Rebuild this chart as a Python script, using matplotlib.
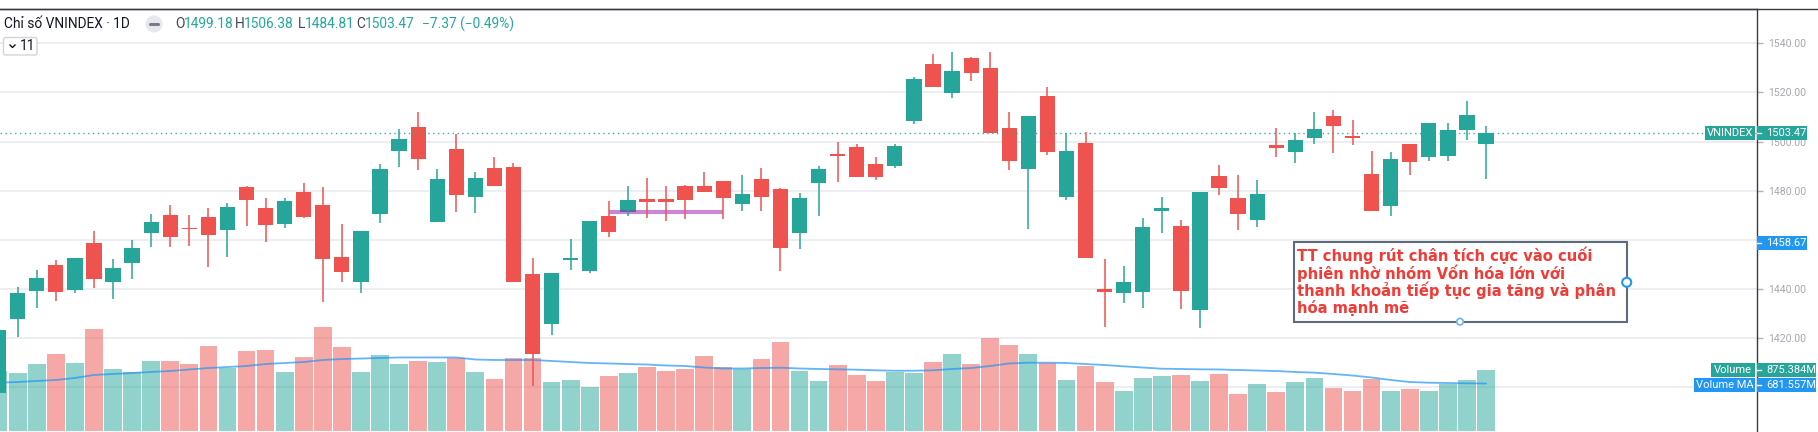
import numpy as np
import matplotlib.pyplot as plt
from matplotlib.patches import Rectangle, Ellipse, FancyBboxPatch
from matplotlib.lines import Line2D
from matplotlib.transforms import Affine2D

# daily OHLC (oldest first, last bar = current session)
opens = [1397.6, 1427.8, 1439.2, 1449.6, 1439.5, 1458.7, 1442.7, 1450.4, 1462.7, 1470.1,
         1465.0, 1469.2, 1463.9, 1481.5, 1473.0, 1466.6, 1479.6, 1474.2, 1453.2, 1442.7,
         1470.7, 1496.3, 1505.9, 1467.1, 1496.9, 1477.6, 1489.1, 1489.5, 1446.2, 1425.9,
         1451.8, 1447.5, 1469.7, 1471.3, 1476.5, 1476.6, 1481.9, 1481.9, 1484.0, 1474.6,
         1484.6, 1480.6, 1462.9, 1483.3, 1495.0, 1497.9, 1490.9, 1489.9, 1508.4, 1531.6,
         1519.8, 1534.2, 1530.1, 1505.5, 1489.0, 1518.4, 1477.6, 1499.3, 1439.9, 1438.2,
         1438.6, 1471.7, 1465.5, 1431.3, 1485.9, 1477.0, 1468.0, 1498.5, 1495.9, 1501.5,
         1510.6, 1502.4, 1486.8, 1473.9, 1498.9, 1493.6, 1494.0, 1504.7, 1499.18]
highs = [1424.5, 1440.7, 1447.7, 1451.8, 1452.5, 1463.5, 1452.1, 1460.0, 1470.5, 1474.2,
         1470.1, 1472.8, 1474.9, 1482.1, 1476.9, 1476.9, 1483.0, 1481.5, 1466.5, 1463.5,
         1490.9, 1505.1, 1511.9, 1488.7, 1503.1, 1487.5, 1493.9, 1491.2, 1452.5, 1446.6,
         1460.2, 1467.8, 1476.0, 1481.9, 1485.2, 1481.9, 1482.3, 1487.6, 1484.0, 1486.3,
         1489.1, 1481.1, 1478.9, 1490.2, 1499.7, 1499.0, 1493.6, 1499.0, 1526.4, 1535.7,
         1536.5, 1534.6, 1536.5, 1512.2, 1510.3, 1522.4, 1503.4, 1503.8, 1452.1, 1449.4,
         1468.8, 1477.4, 1468.0, 1479.5, 1490.6, 1486.5, 1484.4, 1505.5, 1503.4, 1511.9,
         1512.9, 1508.7, 1496.2, 1495.8, 1498.9, 1507.7, 1507.4, 1516.5, 1506.38]
lows = [1396.0, 1420.6, 1432.1, 1435.3, 1438.5, 1440.5, 1435.8, 1444.2, 1457.0, 1457.2,
        1457.6, 1448.8, 1452.9, 1465.8, 1459.0, 1464.7, 1469.0, 1434.6, 1442.7, 1438.2,
        1467.0, 1489.8, 1488.4, 1467.1, 1471.2, 1470.9, 1481.9, 1443.0, 1400.5, 1421.3,
        1447.7, 1446.6, 1461.3, 1469.9, 1469.0, 1467.8, 1468.6, 1479.6, 1468.6, 1471.9,
        1471.6, 1447.5, 1456.3, 1469.9, 1483.7, 1485.6, 1484.4, 1489.4, 1507.0, 1522.2,
        1517.9, 1524.8, 1503.4, 1488.3, 1464.3, 1494.7, 1476.4, 1452.5, 1424.4, 1434.3,
        1432.4, 1462.9, 1432.0, 1424.0, 1478.3, 1464.0, 1465.1, 1493.6, 1491.4, 1499.2,
        1495.5, 1498.8, 1471.6, 1469.9, 1486.3, 1492.2, 1492.2, 1500.7, 1484.81]
closes = [1423.3, 1438.2, 1444.3, 1438.6, 1452.5, 1444.2, 1448.4, 1456.6, 1467.4, 1461.3,
          1464.6, 1462.1, 1473.4, 1476.4, 1466.2, 1476.0, 1469.4, 1452.2, 1447.1, 1463.5,
          1488.7, 1500.9, 1493.1, 1484.6, 1478.4, 1485.0, 1481.9, 1443.0, 1413.5, 1446.6,
          1452.8, 1467.8, 1463.2, 1476.2, 1475.6, 1475.3, 1476.4, 1479.6, 1477.2, 1478.8,
          1477.6, 1456.6, 1476.9, 1488.7, 1494.0, 1485.6, 1485.6, 1498.2, 1525.3, 1522.2,
          1528.6, 1528.1, 1503.4, 1492.1, 1510.3, 1495.8, 1496.0, 1452.5, 1438.8, 1442.8,
          1465.2, 1472.8, 1439.3, 1479.5, 1481.2, 1470.7, 1478.8, 1497.4, 1500.8, 1505.1,
          1506.5, 1501.3, 1471.6, 1492.8, 1491.8, 1507.7, 1504.9, 1510.84, 1503.47]
# volume in millions of shares, and the volume moving average
volumes = [865, 828, 957, 1100, 980, 1459, 890, 851, 1004, 1004,
           961, 1215, 909, 1148, 1162, 842, 1057, 1497, 1210, 842,
           1091, 957, 1004, 990, 1052, 842, 746, 1043, 1043, 698,
           732, 636, 789, 828, 923, 866, 895, 1071, 914, 885,
           1033, 1277, 866, 722, 947, 804, 722, 851, 833, 995,
           1100, 957, 1330, 1229, 1110, 980, 732, 928, 698, 569,
           761, 789, 799, 713, 813, 531, 674, 555, 698, 761,
           617, 569, 751, 569, 607, 579, 674, 732, 875.384]
vol_ma = [693, 703, 718, 732, 761, 804, 818, 832, 847, 861,
          883, 904, 918, 933, 961, 976, 990, 1019, 1033, 1040,
          1048, 1055, 1055, 1055, 1055, 1026, 1019, 1019, 1019, 1005,
          990, 976, 969, 961, 954, 940, 933, 911, 897, 897,
          904, 908, 897, 890, 885, 880, 871, 865, 865, 871,
          890, 904, 933, 969, 980, 980, 976, 961, 947, 928,
          911, 894, 890, 885, 883, 875, 868, 861, 847, 837,
          818, 796, 768, 732, 703, 693, 689, 684, 681.557]
grid_levels = [1400, 1420, 1440, 1460, 1480, 1500, 1520, 1540]
price_ticks = [1420, 1440, 1480, 1500, 1520, 1540]  # 1400 / 1460 sit under tags
support_level = 1471.2
support_span = (32, 38)
marked_level = 1458.67

note_lines = ["TT chung rút chân tích cực vào cuối",
              "phiên nhờ nhóm Vốn hóa lớn với",
              "thanh khoản tiếp tục gia tăng và phân",
              "hóa mạnh mẽ"]

UP, DOWN, BLUE = '#26a69a', '#ef5350', '#2196f3'
FONT = ['Roboto', 'DejaVu Sans']

W, H = 1818, 432
fig = plt.figure(figsize=(W / 100, H / 100), dpi=100)
pix = Affine2D().scale(1, -1).translate(0, H)  # pixel coords, origin top-left

o = np.array(opens); c = np.array(closes)
hi = np.array(highs); lo = np.array(lows)
idx = np.arange(len(o))
cols = np.where(c >= o, UP, DOWN)

rect = [0, 0, 1757 / W, (H - 9) / H]
xlim = (0.073, 92.21)

# price axis: grid + right scale
ax = fig.add_axes(rect)
ax.set_xlim(*xlim)
ax.set_ylim(1381.8, 1553.96)
for lvl in grid_levels:
    ax.axhline(lvl, color='#e9ebf0', lw=1.2, zorder=0)
ax.set_xticks([])
ax.yaxis.tick_right()
ax.set_yticks(price_ticks)
ax.set_yticklabels(['%.2f' % t for t in price_ticks], family=FONT)
ax.tick_params(axis='y', length=4, width=1, color='#b2b5be', labelcolor='#a5a8b0',
               labelsize=7.6, pad=4)
for s in ['left', 'bottom']:
    ax.spines[s].set_visible(False)
for s in ['right', 'top']:
    ax.spines[s].set_color('#363a45')
    ax.spines[s].set_linewidth(1)

# volume overlay
axv = fig.add_axes(rect, sharex=ax)
axv.patch.set_alpha(0)
axv.set_ylim(-14.35, 6055.7)
axv.bar(idx, volumes, width=0.93, color=cols, alpha=0.5, edgecolor='none')
axv.plot(idx, vol_ma, color=BLUE, lw=1.3, alpha=0.7)
axv.axis('off')

# candles on top
axc = fig.add_axes(rect, sharex=ax, sharey=ax)
axc.patch.set_alpha(0)
axc.axis('off')
axc.axhline(c[-1], color=UP, lw=1, ls=(0, (1, 2.5)), alpha=0.9)
axc.hlines(support_level, *support_span, color='#9c27b0', lw=3, alpha=0.55)
axc.vlines(idx, lo, hi, colors=cols, lw=1.1)
body = np.maximum(np.abs(c - o), 0.4)
axc.bar(idx, body, bottom=np.minimum(o, c), width=0.8, color=cols, edgecolor='none')
axc.set_xlim(*xlim)

# top frame line
fig.add_artist(Line2D([0, W], [9, 9], transform=pix, color='#363a45', lw=1))


def tag(x0, x1, yc, h, color, text, tx=None, ha='center'):
    fig.add_artist(Rectangle((x0, yc - h / 2), x1 - x0, h, transform=pix,
                             facecolor=color, edgecolor='none'))
    if tx is None:
        tx = (x0 + x1) / 2
    fig.text(tx, yc, text, transform=pix, color='white', fontsize=8, ha=ha,
             va='center', family=FONT)


def price_y(p):
    return 43.3 + (1540 - p) * 2.457


# scale tags
tag(1705, 1755, price_y(c[-1]), 14, UP, 'VNINDEX')
tag(1757, 1807, price_y(c[-1]), 14, UP, '%.2f' % c[-1], tx=1766, ha='left')
tag(1757, 1807, price_y(marked_level), 14, BLUE, '%.2f' % marked_level, tx=1766, ha='left')
tag(1711, 1755, 369.7, 14, UP, 'Volume')
tag(1757, 1816, 369.7, 14, UP, '%.3fM' % volumes[-1], tx=1766, ha='left')
tag(1694, 1755, 385.3, 14, BLUE, 'Volume MA')
tag(1757, 1816, 385.3, 14, BLUE, '%.3fM' % vol_ma[-1], tx=1766, ha='left')
for yc in [price_y(c[-1]), price_y(marked_level), 369.7, 385.3]:
    fig.add_artist(Line2D([1757, 1761], [yc, yc], transform=pix, color='white', lw=1))

# legend header
HF = 9.9
fig.text(3.5, 24, 'Chỉ số VNINDEX · 1D', transform=pix, fontsize=HF, color='#131722',
         va='center', family=FONT)
fig.add_artist(Ellipse((154, 24), 17, 17, transform=pix, facecolor='#e6e8ee', edgecolor='none'))
fig.add_artist(Line2D([150, 158], [24, 24], transform=pix, color='#787b86', lw=2.2,
                      solid_capstyle='round'))
chg = c[-1] - c[-2]
parts = [(175, 'O', opens[-1]), (235, 'H', highs[-1]), (298, 'L', lows[-1]), (356, 'C', closes[-1])]
for x, letter, val in parts:
    fig.text(x, 24, letter, transform=pix, fontsize=HF, color='#434651', va='center', family=FONT)
    fig.text(x + (7 if letter == 'L' else 9), 24, '%.2f' % val, transform=pix, fontsize=HF,
             color=UP, va='center', family=FONT)
fig.text(422, 24, '−%.2f (−%.2f%%)' % (-chg, -chg / c[-2] * 100), transform=pix,
         fontsize=HF, color=UP, va='center', family=FONT)
fig.add_artist(FancyBboxPatch((3.5, 37.5), 33.5, 17.5, boxstyle='round,pad=0,rounding_size=2',
                              transform=pix, facecolor='white', edgecolor='#d1d4dc', lw=1))
fig.add_artist(Line2D([10, 12.5, 15], [45, 47.5, 45], transform=pix, color='#131722', lw=1))
fig.text(20, 46.5, '11', transform=pix, fontsize=HF, color='#131722', va='center', family=FONT)

# text note box
fig.add_artist(Rectangle((1293.5, 242), 333, 79.5, transform=pix, facecolor='white',
                         edgecolor='#5d6b7a', lw=1.5))
for k, line in enumerate(note_lines):
    fig.text(1297, 255 + k * 17.8, line, transform=pix, fontsize=10.6, fontweight='bold',
             color='#f23a36', va='center', family='DejaVu Sans')
fig.add_artist(Ellipse((1626.7, 282.3), 9, 9, transform=pix, facecolor='white',
                       edgecolor=BLUE, lw=1.5))
fig.add_artist(Ellipse((1460, 321.7), 6.5, 6.5, transform=pix, facecolor='white',
                       edgecolor='#64b5f6', lw=1.2))

fig.savefig('out.png', dpi=100)
